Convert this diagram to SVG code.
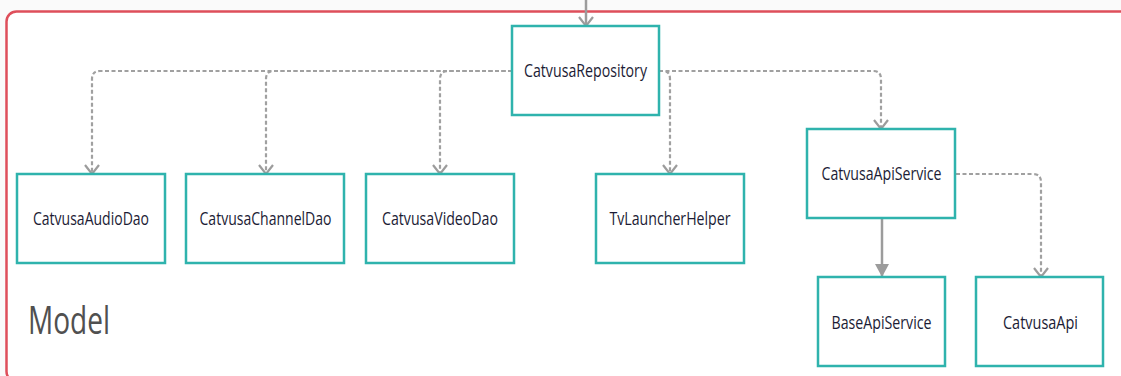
<svg xmlns="http://www.w3.org/2000/svg" width="1121" height="376" viewBox="0 0 1121 376">
  <defs>
    <style>
      .node rect { fill: #ffffff; stroke: #2fb3ad; stroke-width: 2.5; }
      .node text { font-family: "Open Sans", "DejaVu Sans", sans-serif; font-size: 18px; fill: #1c1c35; text-anchor: middle; }
      .dep { fill: none; stroke: #a0a0a0; stroke-width: 2.2; stroke-dasharray: 4 2.5; }
      .assoc { fill: none; stroke: #9c9c9c; stroke-width: 2.5; }
      .frame { fill: #ffffff; stroke: #de4f5b; stroke-width: 2.5; }
      .title { font-family: "Open Sans", "DejaVu Sans", sans-serif; font-size: 38px; fill: #505050; }
    </style>
    <marker id="open" markerUnits="userSpaceOnUse" markerWidth="20" markerHeight="18" refX="10" refY="8" orient="auto">
      <path d="M1,1 L10,8 L1,15" fill="none" stroke="#9c9c9c" stroke-width="2.2"/>
    </marker>
    <marker id="solid" markerUnits="userSpaceOnUse" markerWidth="16" markerHeight="18" refX="13" refY="8" orient="auto">
      <path d="M0,1 L13,8 L0,15 Z" fill="#9c9c9c"/>
    </marker>
  </defs>

  <!-- page background and package frame -->
  <rect x="0" y="0" width="1121" height="376" fill="#fafafa"/>
  <rect class="frame" x="6.5" y="11.5" width="1135" height="370" rx="10"/>
  <text class="title" x="28" y="334" textLength="82" lengthAdjust="spacingAndGlyphs">Model</text>

  <!-- connectors -->
  <g id="connectors">
    <path class="assoc" d="M586,0 V26" marker-end="url(#open)"/>
    <path class="dep" d="M512,71 H100 Q92,71 92,79 V174" marker-end="url(#open)"/>
    <path class="dep" d="M512,71 H274 Q266,71 266,79 V174" marker-end="url(#open)"/>
    <path class="dep" d="M512,71 H448 Q440,71 440,79 V174" marker-end="url(#open)"/>
    <path class="dep" d="M659,71 H663 Q670,71 670,79 V174" marker-end="url(#open)"/>
    <path class="dep" d="M659,71 H873 Q881,71 881,79 V129" marker-end="url(#open)"/>
    <path class="dep" d="M956,174 H1033 Q1041,174 1041,182 V277" marker-end="url(#open)"/>
    <path class="assoc" d="M882,219 V277" marker-end="url(#solid)"/>
  </g>

  <!-- nodes -->
  <g id="catvusa-repository" class="node">
    <rect x="512" y="26" width="147" height="89"/>
    <text x="585.5" y="77" textLength="123" lengthAdjust="spacingAndGlyphs">CatvusaRepository</text>
  </g>
  <g id="catvusa-audio-dao" class="node">
    <rect x="17" y="174" width="148" height="89"/>
    <text x="91" y="225" textLength="116" lengthAdjust="spacingAndGlyphs">CatvusaAudioDao</text>
  </g>
  <g id="catvusa-channel-dao" class="node">
    <rect x="186" y="174" width="158" height="89"/>
    <text x="265.5" y="225" textLength="132" lengthAdjust="spacingAndGlyphs">CatvusaChannelDao</text>
  </g>
  <g id="catvusa-video-dao" class="node">
    <rect x="366" y="174" width="148" height="89"/>
    <text x="440" y="225" textLength="116" lengthAdjust="spacingAndGlyphs">CatvusaVideoDao</text>
  </g>
  <g id="tv-launcher-helper" class="node">
    <rect x="596" y="174" width="148" height="89"/>
    <text x="670" y="225" textLength="121" lengthAdjust="spacingAndGlyphs">TvLauncherHelper</text>
  </g>
  <g id="catvusa-api-service" class="node">
    <rect x="807" y="129" width="148" height="89"/>
    <text x="881.5" y="180" textLength="120" lengthAdjust="spacingAndGlyphs">CatvusaApiService</text>
  </g>
  <g id="base-api-service" class="node">
    <rect x="818" y="277" width="127" height="89"/>
    <text x="881.5" y="329" textLength="100" lengthAdjust="spacingAndGlyphs">BaseApiService</text>
  </g>
  <g id="catvusa-api" class="node">
    <rect x="976" y="277" width="127" height="89"/>
    <text x="1040.5" y="329" textLength="75" lengthAdjust="spacingAndGlyphs">CatvusaApi</text>
  </g>
</svg>
